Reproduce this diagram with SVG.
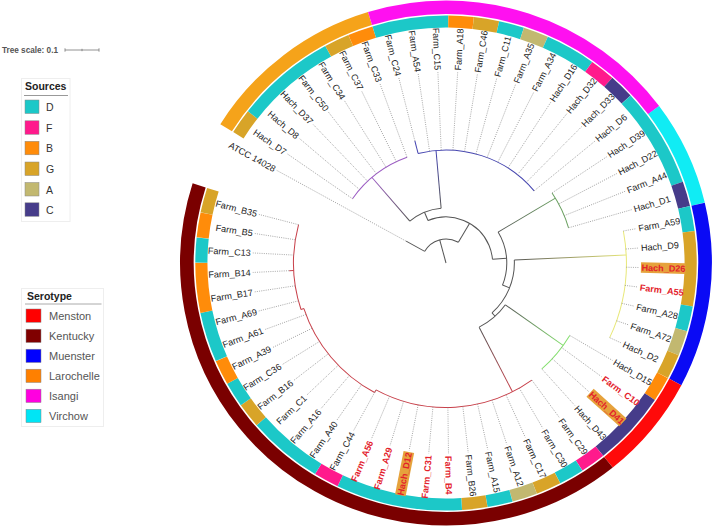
<svg xmlns="http://www.w3.org/2000/svg" width="714" height="526" viewBox="0 0 714 526">
<style>
.t{font-family:"Liberation Sans",Arial,sans-serif;font-size:9px;fill:#222}
.l{text-anchor:end}
.red{font-weight:bold;fill:#E3212B}
.dot{stroke:#8a8a8a;stroke-width:0.7;stroke-dasharray:1 1.2;fill:none}
.br{stroke:#555;stroke-width:1;fill:none}
.ro{fill:none;stroke-width:13.5}
.ri{fill:none;stroke-width:12}
.hb{fill:#E6A23C}
.lg{font-family:"Liberation Sans",Arial,sans-serif;font-size:10.5px;fill:#333}
.lt{font-family:"Liberation Sans",Arial,sans-serif;font-size:10.5px;font-weight:bold;fill:#222}
</style>
<defs>
<linearGradient id="gP" gradientUnits="userSpaceOnUse" x1="55" y1="0" x2="112" y2="0"><stop offset="0" stop-color="#555"/><stop offset="1" stop-color="#9C5CC4"/></linearGradient>
<linearGradient id="gB" gradientUnits="userSpaceOnUse" x1="55" y1="0" x2="112" y2="0"><stop offset="0" stop-color="#555"/><stop offset="1" stop-color="#4545B0"/></linearGradient>
<linearGradient id="gG" gradientUnits="userSpaceOnUse" x1="60" y1="0" x2="126" y2="0"><stop offset="0" stop-color="#555"/><stop offset="1" stop-color="#6AA060"/></linearGradient>
<linearGradient id="gY" gradientUnits="userSpaceOnUse" x1="67.5" y1="0" x2="178" y2="0"><stop offset="0" stop-color="#555"/><stop offset="1" stop-color="#E8E87A"/></linearGradient>
<linearGradient id="gL" gradientUnits="userSpaceOnUse" x1="72" y1="0" x2="142" y2="0"><stop offset="0" stop-color="#555"/><stop offset="1" stop-color="#86E070"/></linearGradient>
<linearGradient id="gR" gradientUnits="userSpaceOnUse" x1="72" y1="0" x2="144.5" y2="0"><stop offset="0" stop-color="#555"/><stop offset="1" stop-color="#C8404A"/></linearGradient>
</defs>
<rect width="714" height="526" fill="#fff"/>

<g id="legend-scale">
<text x="2" y="52.5" style="font-family:'Liberation Sans',Arial,sans-serif;font-size:8.2px;font-weight:bold;fill:#555">Tree scale: 0.1</text>
<path d="M65 50H99M65 48.3V51.7M82 48.8V51.2M99 48.3V51.7" stroke="#777" stroke-width="0.8" fill="none"/>
</g>

<g id="legend-sources">
<rect x="21.5" y="78.5" width="48.5" height="143" fill="#fff" stroke="#eee"/>
<text class="lt" x="25" y="90">Sources</text>
<path d="M24 95.5H68" stroke="#999" stroke-width="1"/>
<g stroke="#888" stroke-width="0.5">
<rect x="25" y="100" width="14" height="13.5" fill="#1CC8C8"/>
<rect x="25" y="120.8" width="14" height="13.5" fill="#FF1A8C"/>
<rect x="25" y="141.3" width="14" height="13.5" fill="#FF8C0A"/>
<rect x="25" y="162" width="14" height="13.5" fill="#D8A428"/>
<rect x="25" y="182.5" width="14" height="13.5" fill="#C2B870"/>
<rect x="25" y="202.8" width="14" height="13.5" fill="#463C8A"/>
</g>
<text class="lg" x="46" y="111">D</text>
<text class="lg" x="46" y="131.8">F</text>
<text class="lg" x="46" y="152.3">B</text>
<text class="lg" x="46" y="173">G</text>
<text class="lg" x="46" y="193.5">A</text>
<text class="lg" x="46" y="213.8">C</text>
</g>

<g id="legend-serotype">
<rect x="21.5" y="288.5" width="82" height="138" fill="#fff" stroke="#eee"/>
<text class="lt" x="27" y="300">Serotype</text>
<path d="M25 304H101.5" stroke="#aaa" stroke-width="1"/>
<g stroke="#888" stroke-width="0.5">
<rect x="26" y="309" width="15" height="13.3" fill="#FF0000"/>
<rect x="26" y="329.2" width="15" height="13.3" fill="#800000"/>
<rect x="26" y="349.2" width="15" height="13.3" fill="#0000FF"/>
<rect x="26" y="369.2" width="15" height="13.3" fill="#FF8000"/>
<rect x="26" y="389.2" width="15" height="13.3" fill="#FF00E0"/>
<rect x="26" y="409.3" width="15" height="13.3" fill="#00E5F5"/>
</g>
<g class="lg" style="fill:#555;font-size:11px">
<text x="49" y="320">Menston</text>
<text x="49" y="340.2">Kentucky</text>
<text x="49" y="360.2">Muenster</text>
<text x="49" y="380.2">Larochelle</text>
<text x="49" y="400.2">Isangi</text>
<text x="49" y="420.3">Virchow</text>
</g>
</g>

<g id="tree" transform="translate(446 263) scale(1.013 1)">
<g id="rings">
<circle class="ro" r="255.75" pathLength="360" stroke="#F5A31A" stroke-dasharray="41.02 360" transform="rotate(211.93)"/>
<circle class="ro" r="255.75" pathLength="360" stroke="#FF10F0" stroke-dasharray="70.32 360" transform="rotate(252.95)"/>
<circle class="ro" r="255.75" pathLength="360" stroke="#10ECF4" stroke-dasharray="23.44 360" transform="rotate(323.27)"/>
<circle class="ro" r="255.75" pathLength="360" stroke="#0A0AF5" stroke-dasharray="41.02 360" transform="rotate(346.71)"/>
<circle class="ro" r="255.75" pathLength="360" stroke="#FF0A0A" stroke-dasharray="23.44 360" transform="rotate(387.73)"/>
<circle class="ro" r="255.75" pathLength="360" stroke="#7A0000" stroke-dasharray="146.5 360" transform="rotate(411.17)"/>

<circle class="ri" r="241.5" pathLength="360" stroke="#D8A428" stroke-dasharray="5.86 360" transform="rotate(211.93)"/>
<circle class="ri" r="241.5" pathLength="360" stroke="#1CC8C8" stroke-dasharray="23.44 360" transform="rotate(217.79)"/>
<circle class="ri" r="241.5" pathLength="360" stroke="#D8A428" stroke-dasharray="5.86 360" transform="rotate(241.23)"/>
<circle class="ri" r="241.5" pathLength="360" stroke="#FF8C0A" stroke-dasharray="5.86 360" transform="rotate(247.09)"/>
<circle class="ri" r="241.5" pathLength="360" stroke="#1CC8C8" stroke-dasharray="17.58 360" transform="rotate(252.95)"/>
<circle class="ri" r="241.5" pathLength="360" stroke="#FF8C0A" stroke-dasharray="5.86 360" transform="rotate(270.53)"/>
<circle class="ri" r="241.5" pathLength="360" stroke="#D8A428" stroke-dasharray="5.86 360" transform="rotate(276.39)"/>
<circle class="ri" r="241.5" pathLength="360" stroke="#1CC8C8" stroke-dasharray="5.86 360" transform="rotate(282.25)"/>
<circle class="ri" r="241.5" pathLength="360" stroke="#C2B870" stroke-dasharray="5.86 360" transform="rotate(288.11)"/>
<circle class="ri" r="241.5" pathLength="360" stroke="#1CC8C8" stroke-dasharray="11.72 360" transform="rotate(293.97)"/>
<circle class="ri" r="241.5" pathLength="360" stroke="#FF1A8C" stroke-dasharray="5.86 360" transform="rotate(305.69)"/>
<circle class="ri" r="241.5" pathLength="360" stroke="#463C8A" stroke-dasharray="5.86 360" transform="rotate(311.55)"/>
<circle class="ri" r="241.5" pathLength="360" stroke="#1CC8C8" stroke-dasharray="23.44 360" transform="rotate(317.41)"/>
<circle class="ri" r="241.5" pathLength="360" stroke="#463C8A" stroke-dasharray="5.86 360" transform="rotate(340.85)"/>
<circle class="ri" r="241.5" pathLength="360" stroke="#1CC8C8" stroke-dasharray="5.86 360" transform="rotate(346.71)"/>
<circle class="ri" r="241.5" pathLength="360" stroke="#D8A428" stroke-dasharray="17.58 360" transform="rotate(352.57)"/>
<circle class="ri" r="241.5" pathLength="360" stroke="#1CC8C8" stroke-dasharray="5.86 360" transform="rotate(370.15)"/>
<circle class="ri" r="241.5" pathLength="360" stroke="#C2B870" stroke-dasharray="5.86 360" transform="rotate(376.01)"/>
<circle class="ri" r="241.5" pathLength="360" stroke="#D8A428" stroke-dasharray="5.86 360" transform="rotate(381.87)"/>
<circle class="ri" r="241.5" pathLength="360" stroke="#FF8C0A" stroke-dasharray="5.86 360" transform="rotate(387.73)"/>
<circle class="ri" r="241.5" pathLength="360" stroke="#463C8A" stroke-dasharray="17.58 360" transform="rotate(393.59)"/>
<circle class="ri" r="241.5" pathLength="360" stroke="#FF1A8C" stroke-dasharray="5.86 360" transform="rotate(411.17)"/>
<circle class="ri" r="241.5" pathLength="360" stroke="#1CC8C8" stroke-dasharray="5.86 360" transform="rotate(417.03)"/>
<circle class="ri" r="241.5" pathLength="360" stroke="#D8A428" stroke-dasharray="5.86 360" transform="rotate(422.89)"/>
<circle class="ri" r="241.5" pathLength="360" stroke="#C2B870" stroke-dasharray="5.86 360" transform="rotate(428.75)"/>
<circle class="ri" r="241.5" pathLength="360" stroke="#1CC8C8" stroke-dasharray="5.86 360" transform="rotate(434.61)"/>
<circle class="ri" r="241.5" pathLength="360" stroke="#D8A428" stroke-dasharray="5.86 360" transform="rotate(440.47)"/>
<circle class="ri" r="241.5" pathLength="360" stroke="#1CC8C8" stroke-dasharray="29.3 360" transform="rotate(446.33)"/>
<circle class="ri" r="241.5" pathLength="360" stroke="#FF1A8C" stroke-dasharray="5.86 360" transform="rotate(475.63)"/>
<circle class="ri" r="241.5" pathLength="360" stroke="#1CC8C8" stroke-dasharray="17.58 360" transform="rotate(481.49)"/>
<circle class="ri" r="241.5" pathLength="360" stroke="#D8A428" stroke-dasharray="5.86 360" transform="rotate(499.07)"/>
<circle class="ri" r="241.5" pathLength="360" stroke="#1CC8C8" stroke-dasharray="5.86 360" transform="rotate(504.93)"/>
<circle class="ri" r="241.5" pathLength="360" stroke="#FF8C0A" stroke-dasharray="5.86 360" transform="rotate(510.79)"/>
<circle class="ri" r="241.5" pathLength="360" stroke="#1CC8C8" stroke-dasharray="11.72 360" transform="rotate(516.65)"/>
<circle class="ri" r="241.5" pathLength="360" stroke="#FF8C0A" stroke-dasharray="11.72 360" transform="rotate(528.37)"/>
<circle class="ri" r="241.5" pathLength="360" stroke="#1CC8C8" stroke-dasharray="5.86 360" transform="rotate(540.09)"/>
<circle class="ri" r="241.5" pathLength="360" stroke="#FF8C0A" stroke-dasharray="5.86 360" transform="rotate(545.95)"/>
<circle class="ri" r="241.5" pathLength="360" stroke="#D8A428" stroke-dasharray="5.86 360" transform="rotate(551.81)"/>
</g>

<g id="connectors">
<path class="br" transform="rotate(255)" d="M0 0H24"/>
<circle class="br" r="24" pathLength="360" stroke-dasharray="91.5 360" transform="rotate(209)"/>
<path class="br" transform="rotate(209)" d="M24 0H45"/>
<path class="br" transform="rotate(300.5)" d="M24 0H46"/>
<circle class="br" r="46" pathLength="360" stroke-dasharray="108.1 360" transform="rotate(247.3)"/>
<path class="br" transform="rotate(247.3)" d="M46 0H55"/>
<circle class="br" r="55" pathLength="360" stroke-dasharray="35.5 360" transform="rotate(229.5)"/>
<path class="br" style="stroke:url(#gP)" transform="rotate(229.5)" d="M55 0H112.5"/>
<path class="br" style="stroke:url(#gB)" transform="rotate(265)" d="M55 0H113"/>
<path class="br" transform="rotate(355.4)" d="M46 0H60"/>
<circle class="br" r="60" pathLength="360" stroke-dasharray="52.6 360" transform="rotate(329)"/>
<path class="br" style="stroke:url(#gG)" transform="rotate(329)" d="M60 0H126"/>
<path class="br" transform="rotate(21.6)" d="M60 0H67.5"/>
<circle class="br" r="67.5" pathLength="360" stroke-dasharray="50.3 360" transform="rotate(357.4)"/>
<path class="br" style="stroke:url(#gY)" transform="rotate(357.4)" d="M67.5 0H178"/>
<path class="br" transform="rotate(47.7)" d="M67.5 0H72"/>
<circle class="br" r="72" pathLength="360" stroke-dasharray="27.5 360" transform="rotate(35.5)"/>
<path class="br" style="stroke:url(#gL)" transform="rotate(35.5)" d="M72 0H142"/>
<path class="br" style="stroke:url(#gR)" transform="rotate(63)" d="M72 0H144.5"/>

<circle class="br" style="stroke:#9C5CC4" r="112.5" pathLength="360" stroke-dasharray="35.16 360" transform="rotate(214.86)"/>
<circle class="br" style="stroke:#4545B0" r="113" pathLength="360" stroke-dasharray="64.46 360" transform="rotate(255.88)"/>
<path class="br" style="stroke:#4545B0" transform="rotate(255.88)" d="M113 0H126"/>
<circle class="br" style="stroke:#6AA060" r="126" pathLength="360" stroke-dasharray="17.58 360" transform="rotate(326.2)"/>
<circle class="br" style="stroke:#E8E87A" r="178" pathLength="360" stroke-dasharray="35.16 360" transform="rotate(349.64)"/>
<circle class="br" style="stroke:#86E070" r="142" pathLength="360" stroke-dasharray="17.58 360" transform="rotate(390.66)"/>
<circle class="br" style="stroke:#C8404A" r="144.5" pathLength="360" stroke-dasharray="64.46 360" transform="rotate(414.1)"/>
<path class="br" style="stroke:#C8404A" transform="rotate(478.56)" d="M144.5 0H147.5"/>
<circle class="br" style="stroke:#C8404A" r="147.5" pathLength="360" stroke-dasharray="43.44 360" transform="rotate(478.56)"/>
<path class="br" style="stroke:#C8404A" transform="rotate(522)" d="M147.5 0H150.5"/>
<circle class="br" style="stroke:#C8404A" r="150.5" pathLength="360" stroke-dasharray="32.74 360" transform="rotate(522)"/>
<path class="br" style="stroke:#C8404A" transform="rotate(537.16)" d="M150.5 0H155"/>

<path class="dot" transform="rotate(209)" d="M45 0H191"/>
<path class="dot" transform="rotate(214.86)" d="M112.5 0H191"/>
<path class="dot" transform="rotate(220.72)" d="M112.5 0H191"/>
<path class="dot" transform="rotate(226.58)" d="M112.5 0H191"/>
<path class="dot" transform="rotate(232.44)" d="M112.5 0H191"/>
<path class="dot" transform="rotate(238.3)" d="M112.5 0H191"/>
<path class="dot" transform="rotate(244.16)" d="M112.5 0H191"/>
<path class="dot" transform="rotate(250.02)" d="M112.5 0H191"/>
<path class="dot" transform="rotate(255.88)" d="M126 0H191"/>
<path class="dot" transform="rotate(261.74)" d="M113 0H191"/>
<path class="dot" transform="rotate(267.6)" d="M113 0H191"/>
<path class="dot" transform="rotate(273.46)" d="M113 0H191"/>
<path class="dot" transform="rotate(279.32)" d="M113 0H191"/>
<path class="dot" transform="rotate(285.18)" d="M113 0H191"/>
<path class="dot" transform="rotate(291.04)" d="M113 0H191"/>
<path class="dot" transform="rotate(296.9)" d="M113 0H191"/>
<path class="dot" transform="rotate(302.76)" d="M113 0H191"/>
<path class="dot" transform="rotate(308.62)" d="M113 0H191"/>
<path class="dot" transform="rotate(314.48)" d="M113 0H191"/>
<path class="dot" transform="rotate(320.34)" d="M113 0H191"/>
<path class="dot" transform="rotate(326.2)" d="M126 0H191"/>
<path class="dot" transform="rotate(332.06)" d="M126 0H191"/>
<path class="dot" transform="rotate(337.92)" d="M126 0H191"/>
<path class="dot" transform="rotate(343.78)" d="M126 0H191"/>
<path class="dot" transform="rotate(349.64)" d="M178 0H191"/>
<path class="dot" transform="rotate(355.5)" d="M178 0H191"/>
<path class="dot" transform="rotate(361.36)" d="M178 0H191"/>
<path class="dot" transform="rotate(367.22)" d="M178 0H191"/>
<path class="dot" transform="rotate(373.08)" d="M178 0H191"/>
<path class="dot" transform="rotate(378.94)" d="M178 0H191"/>
<path class="dot" transform="rotate(384.8)" d="M178 0H191"/>
<path class="dot" transform="rotate(390.66)" d="M142 0H191"/>
<path class="dot" transform="rotate(396.52)" d="M142 0H191"/>
<path class="dot" transform="rotate(402.38)" d="M142 0H191"/>
<path class="dot" transform="rotate(408.24)" d="M142 0H191"/>
<path class="dot" transform="rotate(414.1)" d="M144.5 0H191"/>
<path class="dot" transform="rotate(419.96)" d="M144.5 0H191"/>
<path class="dot" transform="rotate(425.82)" d="M144.5 0H191"/>
<path class="dot" transform="rotate(431.68)" d="M144.5 0H191"/>
<path class="dot" transform="rotate(437.54)" d="M144.5 0H191"/>
<path class="dot" transform="rotate(443.4)" d="M144.5 0H191"/>
<path class="dot" transform="rotate(449.26)" d="M144.5 0H191"/>
<path class="dot" transform="rotate(455.12)" d="M144.5 0H191"/>
<path class="dot" transform="rotate(460.98)" d="M144.5 0H191"/>
<path class="dot" transform="rotate(466.84)" d="M144.5 0H191"/>
<path class="dot" transform="rotate(472.7)" d="M144.5 0H191"/>
<path class="dot" transform="rotate(478.56)" d="M144.5 0H191"/>
<path class="dot" transform="rotate(484.42)" d="M147.5 0H191"/>
<path class="dot" transform="rotate(490.28)" d="M147.5 0H191"/>
<path class="dot" transform="rotate(496.14)" d="M147.5 0H191"/>
<path class="dot" transform="rotate(502)" d="M147.5 0H191"/>
<path class="dot" transform="rotate(507.86)" d="M147.5 0H191"/>
<path class="dot" transform="rotate(513.72)" d="M147.5 0H191"/>
<path class="dot" transform="rotate(519.58)" d="M147.5 0H191"/>
<path class="dot" transform="rotate(525.44)" d="M150.5 0H191"/>
<path class="dot" transform="rotate(531.3)" d="M150.5 0H191"/>
<path class="dot" transform="rotate(537.16)" d="M155 0H191"/>
<path class="dot" transform="rotate(543.02)" d="M150.5 0H191"/>
<path class="dot" transform="rotate(548.88)" d="M150.5 0H191"/>
<path class="dot" transform="rotate(554.74)" d="M150.5 0H191"/>
</g>

<g id="leaves">
<g id="n-ATCC"><text class="t l" transform="rotate(209) translate(193 0) rotate(180)" y="3.2">ATCC 14028</text></g>
<g id="n-Hach_D7"><text class="t l" transform="rotate(214.86) translate(193 0) rotate(180)" y="3.2">Hach_D7</text></g>
<g id="n-Hach_D8"><text class="t l" transform="rotate(220.72) translate(193 0) rotate(180)" y="3.2">Hach_D8</text></g>
<g id="n-Hach_D37"><text class="t l" transform="rotate(226.58) translate(193 0) rotate(180)" y="3.2">Hach_D37</text></g>
<g id="n-Farm_C50"><text class="t l" transform="rotate(232.44) translate(193 0) rotate(180)" y="3.2">Farm_C50</text></g>
<g id="n-Farm_C34"><text class="t l" transform="rotate(238.3) translate(193 0) rotate(180)" y="3.2">Farm_C34</text></g>
<g id="n-Farm_C37"><text class="t l" transform="rotate(244.16) translate(193 0) rotate(180)" y="3.2">Farm_C37</text></g>
<g id="n-Farm_C33"><text class="t l" transform="rotate(250.02) translate(193 0) rotate(180)" y="3.2">Farm_C33</text></g>
<g id="n-Farm_C24"><text class="t l" transform="rotate(255.88) translate(193 0) rotate(180)" y="3.2">Farm_C24</text></g>
<g id="n-Farm_A54"><text class="t l" transform="rotate(261.74) translate(193 0) rotate(180)" y="3.2">Farm_A54</text></g>
<g id="n-Farm_C15"><text class="t l" transform="rotate(267.6) translate(193 0) rotate(180)" y="3.2">Farm_C15</text></g>
<g id="n-Farm_A18"><text class="t" transform="rotate(273.46) translate(193 0)" y="3.2">Farm_A18</text></g>
<g id="n-Farm_C46"><text class="t" transform="rotate(279.32) translate(193 0)" y="3.2">Farm_C46</text></g>
<g id="n-Farm_C11"><text class="t" transform="rotate(285.18) translate(193 0)" y="3.2">Farm_C11</text></g>
<g id="n-Farm_A35"><text class="t" transform="rotate(291.04) translate(193 0)" y="3.2">Farm_A35</text></g>
<g id="n-Farm_A34"><text class="t" transform="rotate(296.9) translate(193 0)" y="3.2">Farm_A34</text></g>
<g id="n-Hach_D16"><text class="t" transform="rotate(302.76) translate(193 0)" y="3.2">Hach_D16</text></g>
<g id="n-Hach_D32"><text class="t" transform="rotate(308.62) translate(193 0)" y="3.2">Hach_D32</text></g>
<g id="n-Hach_D33"><text class="t" transform="rotate(314.48) translate(193 0)" y="3.2">Hach_D33</text></g>
<g id="n-Hach_D6"><text class="t" transform="rotate(320.34) translate(193 0)" y="3.2">Hach_D6</text></g>
<g id="n-Hach_D39"><text class="t" transform="rotate(326.2) translate(193 0)" y="3.2">Hach_D39</text></g>
<g id="n-Hach_D22"><text class="t" transform="rotate(332.06) translate(193 0)" y="3.2">Hach_D22</text></g>
<g id="n-Farm_A44"><text class="t" transform="rotate(337.92) translate(193 0)" y="3.2">Farm_A44</text></g>
<g id="n-Hach_D1"><text class="t" transform="rotate(343.78) translate(193 0)" y="3.2">Hach_D1</text></g>
<g id="n-Farm_A59"><text class="t" transform="rotate(349.64) translate(193 0)" y="3.2">Farm_A59</text></g>
<g id="n-Hach_D9"><text class="t" transform="rotate(355.5) translate(193 0)" y="3.2">Hach_D9</text></g>
<g id="n-Hach_D26"><rect class="hb" transform="rotate(361.36)" x="192.5" y="-5.3" width="44" height="10.6"/><text class="t red" transform="rotate(361.36) translate(193 0)" y="3.2">Hach_D26</text></g>
<g id="n-Farm_A55"><text class="t red" transform="rotate(367.22) translate(193 0)" y="3.2">Farm_A55</text></g>
<g id="n-Farm_A28"><text class="t" transform="rotate(373.08) translate(193 0)" y="3.2">Farm_A28</text></g>
<g id="n-Farm_A72"><text class="t" transform="rotate(378.94) translate(193 0)" y="3.2">Farm_A72</text></g>
<g id="n-Hach_D2"><text class="t" transform="rotate(384.8) translate(193 0)" y="3.2">Hach_D2</text></g>
<g id="n-Hach_D15"><text class="t" transform="rotate(390.66) translate(193 0)" y="3.2">Hach_D15</text></g>
<g id="n-Farm_C10"><text class="t red" transform="rotate(396.52) translate(193 0)" y="3.2">Farm_C10</text></g>
<g id="n-Hach_D41"><rect class="hb" transform="rotate(402.38)" x="192.5" y="-5.3" width="44" height="10.6"/><text class="t red" transform="rotate(402.38) translate(193 0)" y="3.2">Hach_D41</text></g>
<g id="n-Hach_D43"><text class="t" transform="rotate(408.24) translate(193 0)" y="3.2">Hach_D43</text></g>
<g id="n-Farm_C29"><text class="t" transform="rotate(414.1) translate(193 0)" y="3.2">Farm_C29</text></g>
<g id="n-Farm_C30"><text class="t" transform="rotate(419.96) translate(193 0)" y="3.2">Farm_C30</text></g>
<g id="n-Farm_C17"><text class="t" transform="rotate(425.82) translate(193 0)" y="3.2">Farm_C17</text></g>
<g id="n-Farm_A12"><text class="t" transform="rotate(431.68) translate(193 0)" y="3.2">Farm_A12</text></g>
<g id="n-Farm_A15"><text class="t" transform="rotate(437.54) translate(193 0)" y="3.2">Farm_A15</text></g>
<g id="n-Farm_B26"><text class="t" transform="rotate(443.4) translate(193 0)" y="3.2">Farm_B26</text></g>
<g id="n-Farm_B4"><text class="t red" transform="rotate(449.26) translate(193 0)" y="3.2">Farm_B4</text></g>
<g id="n-Farm_C31"><text class="t red l" transform="rotate(455.12) translate(193 0) rotate(180)" y="3.2">Farm_C31</text></g>
<g id="n-Hach_D12"><rect class="hb" transform="rotate(460.98)" x="192.5" y="-5.3" width="44" height="10.6"/><text class="t red l" transform="rotate(460.98) translate(193 0) rotate(180)" y="3.2">Hach_D12</text></g>
<g id="n-Farm_A29"><text class="t red l" transform="rotate(466.84) translate(193 0) rotate(180)" y="3.2">Farm_A29</text></g>
<g id="n-Farm_A56"><text class="t red l" transform="rotate(472.7) translate(193 0) rotate(180)" y="3.2">Farm_A56</text></g>
<g id="n-Farm_C44"><text class="t l" transform="rotate(478.56) translate(193 0) rotate(180)" y="3.2">Farm_C44</text></g>
<g id="n-Farm_A40"><text class="t l" transform="rotate(484.42) translate(193 0) rotate(180)" y="3.2">Farm_A40</text></g>
<g id="n-Farm_A16"><text class="t l" transform="rotate(490.28) translate(193 0) rotate(180)" y="3.2">Farm_A16</text></g>
<g id="n-Farm_C1"><text class="t l" transform="rotate(496.14) translate(193 0) rotate(180)" y="3.2">Farm_C1</text></g>
<g id="n-Farm_B16"><text class="t l" transform="rotate(502) translate(193 0) rotate(180)" y="3.2">Farm_B16</text></g>
<g id="n-Farm_C36"><text class="t l" transform="rotate(507.86) translate(193 0) rotate(180)" y="3.2">Farm_C36</text></g>
<g id="n-Farm_A39"><text class="t l" transform="rotate(513.72) translate(193 0) rotate(180)" y="3.2">Farm_A39</text></g>
<g id="n-Farm_A61"><text class="t l" transform="rotate(519.58) translate(193 0) rotate(180)" y="3.2">Farm_A61</text></g>
<g id="n-Farm_A69"><text class="t l" transform="rotate(525.44) translate(193 0) rotate(180)" y="3.2">Farm_A69</text></g>
<g id="n-Farm_B17"><text class="t l" transform="rotate(531.3) translate(193 0) rotate(180)" y="3.2">Farm_B17</text></g>
<g id="n-Farm_B14"><text class="t l" transform="rotate(537.16) translate(193 0) rotate(180)" y="3.2">Farm_B14</text></g>
<g id="n-Farm_C13"><text class="t l" transform="rotate(543.02) translate(193 0) rotate(180)" y="3.2">Farm_C13</text></g>
<g id="n-Farm_B5"><text class="t l" transform="rotate(548.88) translate(193 0) rotate(180)" y="3.2">Farm_B5</text></g>
<g id="n-Farm_B35"><text class="t l" transform="rotate(554.74) translate(193 0) rotate(180)" y="3.2">Farm_B35</text></g>
</g>
</g>
</svg>
